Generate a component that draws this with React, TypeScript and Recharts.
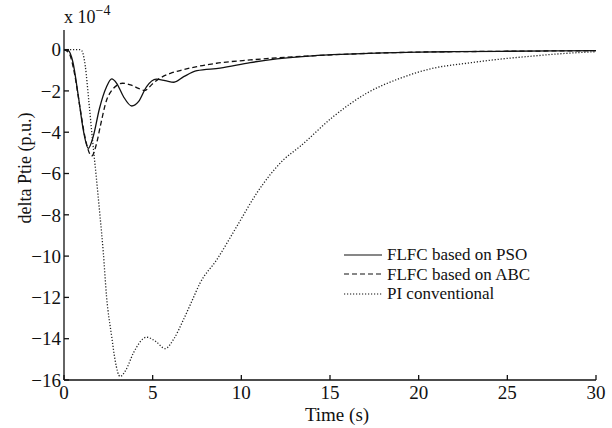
import React from 'react';
import { LineChart, Line, XAxis, YAxis, Legend, Label } from 'recharts';

// time (s) / delta Ptie (x 1e-4 p.u.)
const psoTime = [0, 0.25, 0.5, 0.8, 1.1, 1.37, 1.65, 2.0, 2.4, 2.69, 2.97, 3.35, 3.82, 4.2, 4.65, 5.2, 5.7, 6.2, 6.75, 7.5, 8.8, 10.5, 12, 14, 16, 18, 20, 22, 25, 30];
const psoValues = [0, -0.05, -0.6, -2.2, -3.95, -4.78, -4.2, -2.85, -1.8, -1.42, -1.63, -2.27, -2.73, -2.52, -1.8, -1.43, -1.5, -1.58, -1.31, -1.02, -0.9, -0.63, -0.45, -0.3, -0.22, -0.16, -0.12, -0.1, -0.08, -0.05];

const abcTime = [0, 0.3, 0.6, 0.9, 1.2, 1.56, 1.85, 2.05, 2.4, 2.7, 3.0, 3.3, 3.8, 4.2, 4.55, 5.0, 5.4, 6.0, 6.7, 7.5, 8.6, 10.5, 12, 14, 16, 18, 20, 22, 25, 30];
const abcValues = [0, -0.2, -1.2, -2.8, -4.3, -5.15, -4.5, -3.7, -2.45, -1.97, -1.72, -1.63, -1.72, -1.88, -1.98, -1.65, -1.39, -1.15, -0.98, -0.82, -0.66, -0.5, -0.4, -0.3, -0.22, -0.16, -0.12, -0.1, -0.08, -0.05];

const piTime = [0, 0.9, 1.0, 1.2, 1.4, 1.6, 1.8, 2.03, 2.22, 2.4, 2.69, 2.88, 3.16, 3.5, 3.91, 4.66, 5.2, 5.7, 6.2, 6.73, 7.2, 7.67, 8.61, 9.74, 10.87, 12.37, 13.31, 15.19, 17.07, 18.95, 20.83, 22.71, 24.6, 26.47, 28, 30];
const piValues = [0, 0, -0.05, -0.8, -2.5, -4.3, -6.0, -8.05, -9.86, -11.96, -13.9, -15.03, -15.83, -15.5, -14.7, -13.93, -14.15, -14.48, -14.0, -13.09, -12.2, -11.31, -10.18, -8.57, -6.95, -5.34, -4.69, -3.24, -2.11, -1.39, -0.9, -0.66, -0.46, -0.31, -0.2, -0.1];

const xTicks = [0, 5, 10, 15, 20, 25, 30];
const yTicks = [0, -2, -4, -6, -8, -10, -12, -14, -16];

const seriesNames = ['FLFC based on PSO', 'FLFC based on ABC', 'PI conventional'];

const toPoints = (t: number[], v: number[]) => t.map((time, i) => ({ t: time, v: v[i] }));

const psoData = toPoints(psoTime, psoValues);
const abcData = toPoints(abcTime, abcValues);
const piData = toPoints(piTime, piValues);

const FONT = 'Liberation Serif, DejaVu Serif, serif';
const fmt = (v: number) => (v < 0 ? `\u2212${-v}` : `${v}`);

const dashes = ['', '5 3', '1.2 1.8'];

const LegendBox = () => (
  <div style={{ fontFamily: FONT, fontSize: 17, color: '#111' }}>
    {seriesNames.map((name, i) => (
      <div key={name} style={{ display: 'flex', alignItems: 'center', height: 19.5, whiteSpace: 'nowrap' }}>
        <svg width={40} height={10} style={{ marginRight: 3, flex: 'none' }}>
          <line x1={0} y1={5} x2={38} y2={5} stroke="#111" strokeWidth={1.2} strokeDasharray={dashes[i] || undefined} />
        </svg>
        <span style={{ fontFamily: FONT, lineHeight: '19.5px' }}>{name}</span>
      </div>
    ))}
  </div>
);

const tickStyle = { fill: '#111', fontSize: 19, fontFamily: FONT };

export default function App() {
  const axisStroke = { stroke: '#111', strokeWidth: 1.3 };
  return (
    <div style={{ position: 'absolute', left: 0, top: 0, width: 612, height: 428, background: '#fff', fontFamily: FONT }}>
      <LineChart width={612} height={428} margin={{ top: 30, right: 16, bottom: 0, left: 0 }} style={{ fontFamily: FONT }}>
        <XAxis
          dataKey="t"
          type="number"
          domain={[0, 30]}
          ticks={xTicks}
          height={48}
          tickSize={-5}
          tickMargin={11}
          axisLine={axisStroke}
          tickLine={axisStroke}
          tick={tickStyle}
        >
          <Label
            content={() => (
              <text x={337} y={421} textAnchor="middle" fontSize={19} fill="#111" style={{ fontFamily: FONT }}>
                Time (s)
              </text>
            )}
          />
        </XAxis>
        <XAxis
          xAxisId="top"
          orientation="top"
          dataKey="t"
          type="number"
          domain={[0, 30]}
          ticks={xTicks}
          height={0}
          tickSize={-5}
          tick={false}
          axisLine={axisStroke}
          tickLine={axisStroke}
        />
        <YAxis
          type="number"
          domain={[-16, 0.95]}
          ticks={yTicks}
          allowDataOverflow
          width={64}
          tickSize={-5}
          tickMargin={8}
          tickFormatter={fmt}
          axisLine={axisStroke}
          tickLine={axisStroke}
          tick={tickStyle}
        >
          <Label
            content={() => (
              <g style={{ fontFamily: FONT }}>
                <text x={0} y={0} transform="translate(31,168) rotate(-90)" textAnchor="middle" fontSize={18} fill="#111">
                  delta Ptie (p.u.)
                </text>
                <text x={64} y={23} fontSize={18} fill="#111">
                  x 10<tspan dy={-8} fontSize={14}>{'\u22124'}</tspan>
                </text>
              </g>
            )}
          />
        </YAxis>
        <YAxis
          yAxisId="right"
          orientation="right"
          type="number"
          domain={[-16, 0.95]}
          ticks={yTicks}
          width={0}
          tickSize={-5}
          tick={false}
          axisLine={axisStroke}
          tickLine={axisStroke}
        />
        <Legend
          layout="vertical"
          align="center"
          verticalAlign="middle"
          wrapperStyle={{ left: 344, top: 245, width: 240 }}
          content={() => <LegendBox />}
        />
        <Line data={psoData} dataKey="v" name={seriesNames[0]} type="monotone" stroke="#111" strokeWidth={1.3} dot={false} isAnimationActive={false} />
        <Line data={abcData} dataKey="v" name={seriesNames[1]} type="monotone" stroke="#111" strokeWidth={1.3} strokeDasharray="5 3" dot={false} isAnimationActive={false} />
        <Line data={piData} dataKey="v" name={seriesNames[2]} type="monotone" stroke="#222" strokeWidth={1.3} strokeDasharray="1.2 1.8" dot={false} isAnimationActive={false} />
      </LineChart>
    </div>
  );
}
